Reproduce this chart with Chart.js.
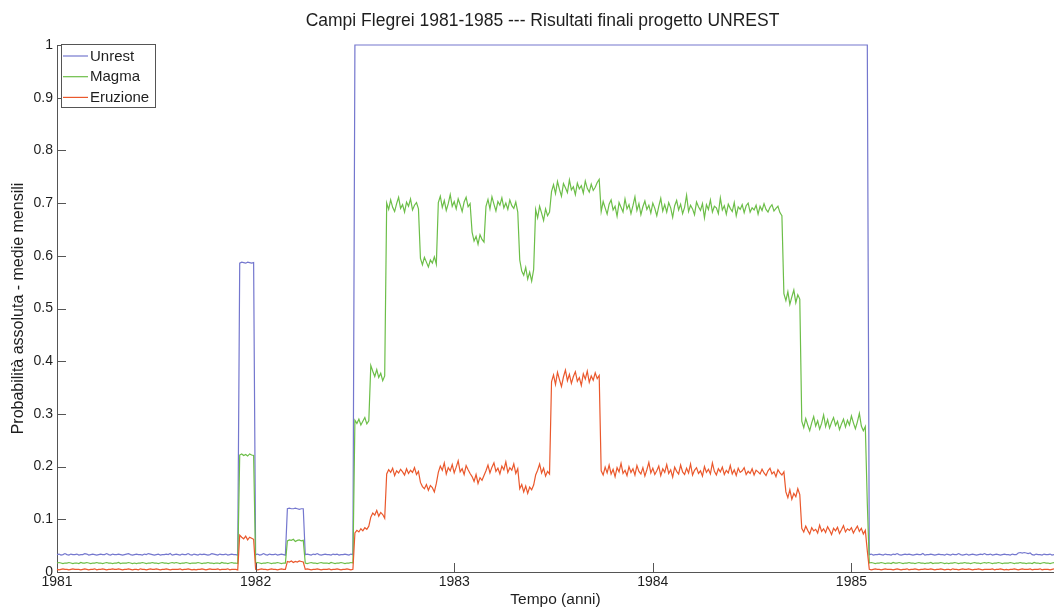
<!DOCTYPE html>
<html>
<head>
<meta charset="utf-8">
<script src="https://cdn.jsdelivr.net/npm/chart.js"></script>
<style>
  html, body { margin: 0; padding: 0; background: #ffffff; }
  canvas { display: block; }
</style>
</head>
<body>
<canvas id="c" width="1054" height="609"></canvas>
<script>
// ---- time base: samples every 0.01 year from 1981.00 to 1986.02 ----
const startYear = 1981;
const stepYear = 0.01;
const xTickYears = [1981, 1982, 1983, 1984, 1985];
const seriesLabels = ['Unrest', 'Magma', 'Eruzione'];

// ---- Unrest probability ----
const unrest = [
  // 1981.00 - 1981.91
  .033,.034,.032,.033,.035,.033,.032,.034,.033,.033,
  .034,.032,.033,.033,.035,.034,.032,.033,.034,.033,
  .032,.033,.034,.033,.033,.035,.033,.032,.034,.033,
  .033,.034,.033,.032,.033,.034,.035,.033,.032,.033,
  .034,.033,.033,.032,.034,.033,.035,.034,.033,.032,
  .033,.034,.032,.033,.033,.034,.033,.035,.032,.033,
  .034,.033,.032,.034,.033,.033,.035,.033,.032,.034,
  .033,.032,.034,.033,.034,.033,.032,.033,.035,.034,
  .033,.032,.034,.033,.033,.034,.032,.033,.034,.033,
  .033,.032,
  // 1981.92 - 1981.99
  .586,.588,.587,.586,.588,.587,.586,.587,
  // 1982.00 - 1982.15
  .033,.034,.032,.033,.035,.033,.032,.034,.033,.033,
  .034,.032,.033,.034,.033,.032,
  // 1982.16 - 1982.24
  .12,.121,.12,.12,.121,.12,.119,.12,.12,
  // 1982.25 - 1982.49
  .033,.034,.033,.032,.034,.033,.035,.033,.032,.033,
  .034,.033,.033,.032,.034,.033,.034,.032,.033,.033,
  .034,.033,.032,.034,.033,
  // 1982.50 - 1985.08
  1,1,1,1,1,1,1,1,1,1,1,1,1,1,1,1,1,1,1,1,
  1,1,1,1,1,1,1,1,1,1,1,1,1,1,1,1,1,1,1,1,
  1,1,1,1,1,1,1,1,1,1,1,1,1,1,1,1,1,1,1,1,
  1,1,1,1,1,1,1,1,1,1,1,1,1,1,1,1,1,1,1,1,
  1,1,1,1,1,1,1,1,1,1,1,1,1,1,1,1,1,1,1,1,
  1,1,1,1,1,1,1,1,1,1,1,1,1,1,1,1,1,1,1,1,
  1,1,1,1,1,1,1,1,1,1,1,1,1,1,1,1,1,1,1,1,
  1,1,1,1,1,1,1,1,1,1,1,1,1,1,1,1,1,1,1,1,
  1,1,1,1,1,1,1,1,1,1,1,1,1,1,1,1,1,1,1,1,
  1,1,1,1,1,1,1,1,1,1,1,1,1,1,1,1,1,1,1,1,
  1,1,1,1,1,1,1,1,1,1,1,1,1,1,1,1,1,1,1,1,
  1,1,1,1,1,1,1,1,1,1,1,1,1,1,1,1,1,1,1,1,
  1,1,1,1,1,1,1,1,1,1,1,1,1,1,1,1,1,1,1,
  // 1985.09 - 1986.02
  .033,.034,.032,.033,.033,.034,.033,.032,.034,.033,
  .033,.032,.034,.033,.035,.033,.032,.033,.034,.033,
  .034,.033,.032,.033,.034,.033,.033,.035,.032,.033,
  .033,.034,.033,.032,.033,.034,.033,.033,.032,.034,
  .033,.032,.034,.033,.033,.035,.033,.032,.033,.034,
  .032,.033,.034,.033,.032,.033,.034,.033,.035,.033,
  .033,.034,.032,.033,.034,.033,.032,.033,.034,.033,
  .033,.032,.034,.033,.033,.036,.037,.036,.037,.036,
  .035,.036,.033,.032,.034,.033,.033,.032,.034,.033,
  .033,.034,.032,.033
];

// ---- Magma probability ----
const magma = [
  // 1981.00 - 1981.91
  .017,.018,.017,.016,.017,.017,.018,.017,.016,.017,
  .017,.016,.018,.017,.017,.018,.017,.016,.017,.017,
  .018,.017,.017,.016,.017,.018,.017,.017,.016,.017,
  .017,.018,.016,.017,.017,.017,.018,.017,.016,.017,
  .016,.017,.017,.018,.017,.016,.017,.017,.018,.017,
  .017,.016,.017,.018,.017,.017,.016,.017,.018,.017,
  .018,.017,.016,.017,.017,.018,.017,.016,.017,.017,
  .017,.018,.017,.016,.017,.017,.018,.017,.017,.016,
  .017,.017,.016,.018,.017,.017,.016,.017,.018,.017,
  .017,.016,
  // 1981.92 - 1981.99
  .222,.224,.221,.223,.22,.224,.222,.221,
  // 1982.00 - 1982.15
  .017,.018,.017,.016,.017,.017,.018,.017,.016,.017,
  .017,.018,.017,.016,.017,.017,
  // 1982.16 - 1982.24
  .059,.061,.06,.062,.058,.06,.061,.059,.06,
  // 1982.25 - 1982.49
  .017,.016,.017,.018,.017,.017,.016,.017,.018,.017,
  .017,.017,.016,.018,.017,.016,.017,.017,.018,.017,
  .016,.017,.017,.018,.017,
  // 1982.50 - 1982.57
  .288,.282,.29,.279,.286,.293,.281,.287,
  // 1982.58 - 1982.65
  .392,.381,.371,.384,.369,.377,.363,.372,
  // 1982.66 - 1982.82
  .70,.688,.706,.692,.684,.699,.711,.69,.697,.683,.702,.694,.708,.687,.696,.701,.689,
  // 1982.83 - 1982.91
  .595,.583,.597,.588,.579,.592,.586,.598,.584,
  // 1982.92 - 1983.08
  .701,.713,.692,.705,.686,.699,.716,.694,.703,.689,.708,.697,.684,.702,.711,.693,.699,
  // 1983.09 - 1983.15
  .645,.628,.637,.622,.64,.631,.626,
  // 1983.16 - 1983.32
  .694,.707,.689,.712,.698,.685,.703,.696,.71,.691,.7,.688,.706,.695,.69,.702,.683,
  // 1983.33 - 1983.40
  .592,.571,.563,.578,.556,.569,.552,.574,
  // 1983.41 - 1983.48
  .688,.672,.694,.681,.667,.689,.676,.683,
  // 1983.49 - 1983.73
  .722,.735,.718,.741,.726,.713,.737,.729,.72,.744,
  .725,.731,.716,.738,.727,.733,.719,.742,.728,.721,
  .736,.724,.73,.739,.745,
  // 1983.74 - 1984.65
  .684,.703,.691,.679,.698,.706,.687,.694,.675,.701,
  .692,.683,.708,.689,.697,.68,.695,.712,.686,.699,
  .678,.693,.704,.688,.696,.681,.7,.69,.676,.694,
  .709,.685,.697,.683,.701,.691,.673,.695,.705,.687,
  .698,.68,.692,.715,.684,.696,.689,.678,.702,.693,
  .686,.699,.672,.697,.688,.706,.683,.694,.691,.68,
  .71,.687,.695,.679,.698,.69,.684,.701,.676,.693,
  .688,.697,.682,.695,.7,.683,.691,.687,.696,.679,
  .694,.686,.699,.688,.683,.692,.697,.685,.69,.694,
  .682,.676,
  // 1984.66 - 1984.74
  .528,.515,.532,.508,.522,.535,.511,.526,.518,
  // 1984.75 - 1985.07
  .286,.274,.291,.279,.268,.283,.295,.277,.287,.271,
  .282,.298,.276,.289,.273,.284,.293,.278,.286,.27,
  .281,.29,.275,.288,.279,.296,.283,.272,.285,.301,
  .277,.268,.276,
  // 1985.08
  .13,
  // 1985.09 - 1986.02
  .017,.018,.017,.016,.017,.017,.018,.017,.016,.017,
  .017,.016,.018,.017,.017,.018,.017,.016,.017,.017,
  .018,.017,.017,.016,.017,.018,.017,.017,.016,.017,
  .017,.018,.016,.017,.017,.017,.018,.017,.016,.017,
  .016,.017,.017,.018,.017,.016,.017,.017,.018,.017,
  .017,.016,.017,.018,.017,.017,.016,.017,.018,.017,
  .018,.017,.016,.017,.017,.018,.017,.016,.017,.017,
  .017,.018,.017,.016,.017,.017,.018,.017,.017,.016,
  .017,.017,.016,.018,.017,.017,.016,.017,.018,.017,
  .017,.016,.017,.018
];

// ---- Eruption probability ----
const eruzione = [
  // 1981.00 - 1981.91
  .005,.004,.005,.006,.005,.005,.004,.005,.006,.005,
  .005,.005,.004,.005,.006,.005,.004,.005,.005,.006,
  .004,.005,.005,.006,.005,.004,.005,.005,.006,.005,
  .005,.006,.005,.004,.005,.005,.006,.005,.004,.005,
  .005,.004,.006,.005,.005,.004,.005,.006,.005,.005,
  .006,.005,.004,.005,.005,.006,.005,.004,.005,.005,
  .005,.005,.006,.004,.005,.005,.006,.005,.004,.005,
  .004,.005,.005,.006,.005,.004,.005,.006,.005,.005,
  .005,.006,.004,.005,.005,.005,.006,.004,.005,.005,
  .005,.004,
  // 1981.92 - 1981.99
  .07,.066,.063,.068,.061,.066,.064,.062,
  // 1982.00 - 1982.15
  .005,.004,.005,.006,.005,.005,.004,.005,.006,.005,
  .005,.004,.005,.006,.005,.005,
  // 1982.16 - 1982.24
  .02,.019,.021,.018,.02,.019,.021,.02,.019,
  // 1982.25 - 1982.49
  .005,.006,.005,.004,.005,.005,.006,.005,.004,.005,
  .005,.005,.006,.004,.005,.005,.006,.005,.004,.005,
  .005,.006,.005,.004,.005,
  // 1982.50 - 1982.57
  .074,.079,.076,.082,.078,.084,.081,.087,
  // 1982.58 - 1982.65
  .104,.112,.108,.117,.106,.113,.109,.102,
  // 1982.66 - 1982.82
  .186,.194,.189,.197,.183,.192,.188,.195,.19,.184,.196,.187,.193,.189,.198,.185,.191,
  // 1982.83 - 1982.91
  .17,.162,.158,.166,.155,.164,.16,.152,.168,
  // 1982.92 - 1983.08
  .189,.201,.193,.207,.186,.198,.192,.204,.188,.199,.211,.19,.196,.185,.202,.194,.187,
  // 1983.09 - 1983.15
  .181,.172,.185,.168,.179,.174,.183,
  // 1983.16 - 1983.32
  .192,.203,.188,.199,.207,.191,.197,.186,.201,.194,.209,.189,.198,.193,.205,.187,.196,
  // 1983.33 - 1983.40
  .158,.166,.152,.163,.149,.161,.156,.165,
  // 1983.41 - 1983.48
  .184,.193,.205,.188,.197,.182,.191,.186,
  // 1983.49 - 1983.73
  .361,.374,.356,.379,.365,.352,.37,.383,.363,.375,
  .358,.371,.38,.362,.369,.354,.376,.366,.381,.36,
  .372,.364,.378,.367,.373,
  // 1983.74 - 1984.66
  .192,.184,.199,.188,.203,.186,.195,.181,.198,.19,
  .206,.187,.193,.183,.2,.189,.196,.184,.202,.191,
  .186,.198,.182,.194,.208,.188,.197,.185,.192,.201,
  .183,.196,.189,.204,.187,.194,.18,.199,.191,.186,
  .203,.19,.185,.197,.188,.205,.184,.193,.198,.187,
  .192,.182,.2,.189,.195,.186,.207,.191,.184,.196,
  .19,.199,.185,.193,.188,.202,.186,.194,.183,.197,
  .189,.192,.198,.185,.191,.187,.196,.184,.193,.19,
  .186,.195,.188,.183,.192,.197,.186,.19,.181,.194,
  .188,.184,.19,
  // 1984.67 - 1984.74
  .152,.141,.156,.138,.149,.143,.158,.147,
  // 1984.75 - 1985.07
  .083,.076,.087,.079,.072,.084,.078,.081,.074,.089,
  .077,.082,.075,.086,.079,.071,.083,.078,.085,.073,
  .08,.088,.076,.082,.079,.084,.074,.081,.087,.077,
  .083,.072,.079,
  // 1985.08
  .04,
  // 1985.09 - 1986.02
  .005,.004,.005,.006,.005,.005,.004,.005,.006,.005,
  .005,.005,.004,.005,.006,.005,.004,.005,.005,.006,
  .004,.005,.005,.006,.005,.004,.005,.005,.006,.005,
  .005,.006,.005,.004,.005,.005,.006,.005,.004,.005,
  .005,.004,.006,.005,.005,.004,.005,.006,.005,.005,
  .006,.005,.004,.005,.005,.006,.005,.004,.005,.005,
  .005,.005,.006,.004,.005,.005,.006,.005,.004,.005,
  .004,.005,.005,.006,.005,.004,.005,.006,.005,.005,
  .005,.006,.004,.005,.005,.005,.006,.004,.005,.005,
  .005,.004,.005,.006
];

const N = 503;
[['unrest', unrest], ['magma', magma], ['eruzione', eruzione]].forEach(([n, a]) => {
  if (a.length !== N) throw new Error(n + ' has ' + a.length + ' values, expected ' + N);
});

// ---- styling ----
const colors = ['rgb(116,119,206)', 'rgb(108,190,72)', 'rgb(234,88,44)'];
const axisColor = '#555555';
const textColor = '#1e1e1e';
const FONT = '"Liberation Sans", Arial, Helvetica, sans-serif';

const toPoints = arr => arr.map((v, i) => ({ x: +(startYear + i * stepYear).toFixed(2), y: v }));

const insideTicks = {
  id: 'insideTicks',
  afterDatasetsDraw(chart) {
    const { ctx, chartArea, scales } = chart;
    const len = 9;
    ctx.save();
    ctx.strokeStyle = axisColor;
    ctx.lineWidth = 1;
    ctx.beginPath();
    scales.x.ticks.forEach(t => {
      if (t.value === scales.x.min) return;
      const px = Math.round(scales.x.getPixelForValue(t.value)) + 0.5;
      ctx.moveTo(px, chartArea.bottom);
      ctx.lineTo(px, chartArea.bottom - len);
    });
    scales.y.ticks.forEach(t => {
      if (t.value === scales.y.min) return;
      const py = Math.round(scales.y.getPixelForValue(t.value)) + 0.5;
      ctx.moveTo(chartArea.left, py);
      ctx.lineTo(chartArea.left + len, py);
    });
    ctx.stroke();
    ctx.restore();
  }
};

const boxedLegend = {
  id: 'boxedLegend',
  afterDraw(chart) {
    const { ctx, chartArea } = chart;
    const x0 = Math.round(chartArea.left) + 4;
    const y0 = Math.round(chartArea.top) - 1;
    const w = 94, h = 63, rowH = 20.7;
    ctx.save();
    ctx.fillStyle = '#ffffff';
    ctx.fillRect(x0, y0, w, h);
    ctx.strokeStyle = axisColor;
    ctx.lineWidth = 1;
    ctx.strokeRect(x0 + 0.5, y0 + 0.5, w, h);
    ctx.font = '15px ' + FONT;
    ctx.textBaseline = 'middle';
    ctx.textAlign = 'left';
    chart.data.datasets.forEach((ds, i) => {
      const cy = y0 + 12 + i * rowH;
      ctx.strokeStyle = ds.borderColor;
      ctx.lineWidth = 1.2;
      ctx.beginPath();
      ctx.moveTo(x0 + 2, cy);
      ctx.lineTo(x0 + 27, cy);
      ctx.stroke();
      ctx.fillStyle = textColor;
      ctx.fillText(ds.label, x0 + 29, cy + 0.5);
    });
    ctx.restore();
  }
};

const shiftTitle = {
  id: 'shiftTitle',
  afterLayout(chart) {
    if (chart.titleBlock) { chart.titleBlock.left = 31; }
  }
};

Chart.defaults.font.family = FONT;
Chart.defaults.color = textColor;

new Chart(document.getElementById('c'), {
  type: 'line',
  data: {
    datasets: [
      { label: seriesLabels[0], data: toPoints(unrest), borderColor: colors[0], backgroundColor: colors[0], order: 3 },
      { label: seriesLabels[1], data: toPoints(magma), borderColor: colors[1], backgroundColor: colors[1], order: 2 },
      { label: seriesLabels[2], data: toPoints(eruzione), borderColor: colors[2], backgroundColor: colors[2], order: 1 }
    ]
  },
  options: {
    responsive: false,
    animation: false,
    devicePixelRatio: 1,
    layout: { padding: 0 },
    elements: {
      point: { radius: 0 },
      line: { borderWidth: 1.2, tension: 0, fill: false }
    },
    datasets: { line: { clip: 3 } },
    plugins: {
      legend: { display: false },
      tooltip: { enabled: false },
      title: {
        display: true,
        text: 'Campi Flegrei 1981-1985 --- Risultati finali progetto UNREST',
        font: { size: 17.5, weight: 'normal' },
        color: textColor,
        padding: { top: 11, bottom: 13 }
      }
    },
    scales: {
      x: {
        type: 'linear',
        min: startYear,
        max: 1986.02,
        grid: { display: false, drawTicks: false },
        border: { display: true, color: axisColor, width: 1 },
        afterBuildTicks: s => { s.ticks = xTickYears.map(v => ({ value: v })); },
        ticks: {
          padding: 2, maxRotation: 0, autoSkip: false,
          font: { size: 14 }, color: textColor,
          callback: v => String(v)
        },
        title: { display: true, text: 'Tempo (anni)', font: { size: 15.5 }, color: textColor, padding: { top: 0, bottom: 0 } },
        afterFit: s => { s.height = 37; }
      },
      y: {
        type: 'linear',
        min: 0,
        max: 1,
        grid: { display: false, drawTicks: false },
        border: { display: true, color: axisColor, width: 1 },
        ticks: {
          stepSize: 0.1, padding: 4, font: { size: 14 }, color: textColor,
          callback: v => String(Number(v.toFixed(1)))
        },
        title: { display: true, text: 'Probabilità assoluta - medie mensili', font: { size: 16 }, color: textColor, padding: { top: 9, bottom: 0 } },
        afterFit: s => { s.width = 57; }
      }
    }
  },
  plugins: [insideTicks, boxedLegend, shiftTitle]
});
</script>
</body>
</html>
